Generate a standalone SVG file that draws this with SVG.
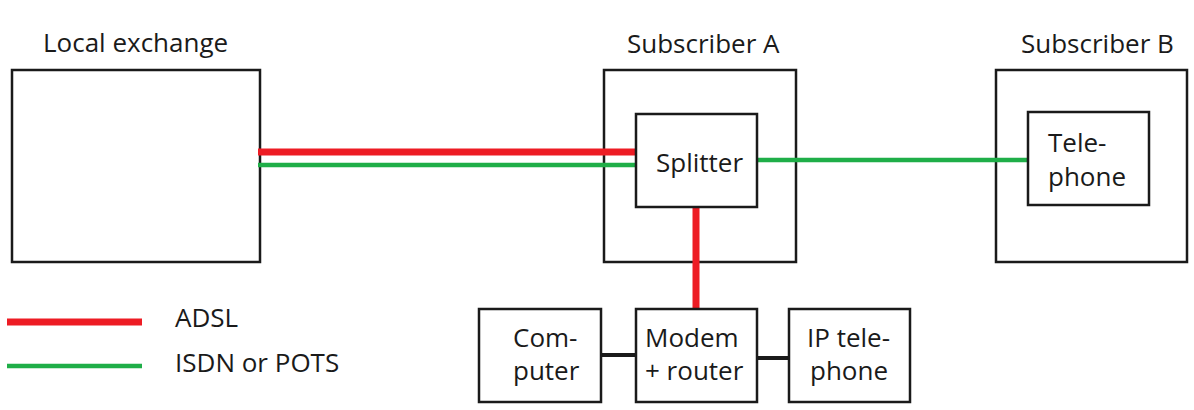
<svg xmlns="http://www.w3.org/2000/svg" width="1194" height="410" viewBox="0 0 1194 410">
<style>
.box{fill:#fff;stroke:#1a1a1a;stroke-width:2.5}
.t{font-family:"Open Sans","Noto Sans",sans-serif;font-size:26px;fill:#1a1a1a}
.red{stroke:#ed1c24;stroke-width:7;fill:none}
.green{stroke:#1fae48;stroke-width:4.5;fill:none}
.blk{stroke:#1a1a1a;stroke-width:4;fill:none}
</style>
<rect width="1194" height="410" fill="#fff"/>
<g id="local-exchange">
<rect class="box" x="12" y="70" width="248" height="192"/>
<text class="t" x="43" y="52">Local exchange</text>
</g>
<g id="subscriber-a">
<rect class="box" x="604" y="70" width="192" height="192"/>
<text class="t" x="627" y="53">Subscriber A</text>
</g>
<g id="subscriber-b">
<rect class="box" x="996" y="70" width="191" height="192"/>
<text class="t" x="1021" y="53">Subscriber B</text>
</g>
<g id="connectors">
<line class="red" x1="258" y1="152" x2="637" y2="152"/>
<line class="green" x1="258" y1="165" x2="637" y2="165"/>
<line class="green" x1="757" y1="160" x2="1029" y2="160"/>
<line class="red" x1="696" y1="207" x2="696" y2="309"/>
<line class="blk" x1="600" y1="355" x2="636" y2="355"/>
<line class="blk" x1="757" y1="358" x2="789" y2="358"/>
</g>
<g id="splitter">
<rect class="box" x="636" y="114" width="121" height="93"/>
<text class="t" x="656" y="172">Splitter</text>
</g>
<g id="telephone">
<rect class="box" x="1028" y="112" width="121" height="93"/>
<text class="t" x="1048" y="152">Tele-</text>
<text class="t" x="1048" y="186">phone</text>
</g>
<g id="computer">
<rect class="box" x="479" y="309" width="122" height="93"/>
<text class="t" x="513" y="347">Com-</text>
<text class="t" x="513" y="380">puter</text>
</g>
<g id="modem-router">
<rect class="box" x="636" y="309" width="121" height="93"/>
<text class="t" x="645" y="347">Modem</text>
<text class="t" x="645" y="380">+ router</text>
</g>
<g id="ip-telephone">
<rect class="box" x="789" y="309" width="121" height="93"/>
<text class="t" x="807" y="347">IP tele-</text>
<text class="t" x="810" y="380">phone</text>
</g>
<g id="legend">
<line class="red" x1="7" y1="322" x2="142" y2="322"/>
<line class="green" x1="7" y1="366" x2="142" y2="366"/>
<text class="t" x="175" y="327">ADSL</text>
<text class="t" x="175" y="372">ISDN or POTS</text>
</g>
</svg>
